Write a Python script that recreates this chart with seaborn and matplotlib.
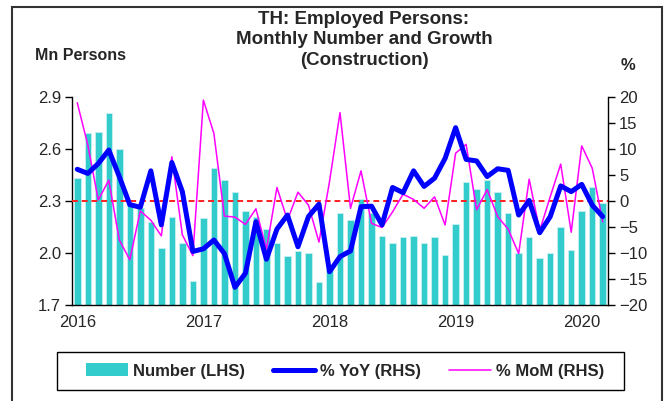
import numpy as np
import pandas as pd
import matplotlib
matplotlib.use("Agg")
import matplotlib.pyplot as plt
from matplotlib.patches import Rectangle, Patch
from matplotlib.lines import Line2D
import seaborn as sns

# monthly data, Jan 2016 - Mar 2020
months = pd.date_range("2016-01-01", "2020-03-01", freq="MS")

number = [2.43, 2.69, 2.70, 2.81, 2.60, 2.29, 2.26, 2.18, 2.03, 2.21, 2.06, 1.84,
          2.20, 2.49, 2.42, 2.35, 2.24, 2.21, 2.14, 2.06, 1.98, 2.01, 2.00, 1.83,
          1.90, 2.23, 2.19, 2.31, 2.23, 2.10, 2.06, 2.09, 2.10, 2.06, 2.09, 1.99,
          2.17, 2.41, 2.37, 2.42, 2.35, 2.23, 2.00, 2.09, 1.97, 2.00, 2.15, 2.02,
          2.24, 2.38, 2.29]

yoy = [6.1, 5.3, 7.2, 9.8, 4.7, -0.7, -1.2, 5.8, -4.6, 7.4, 1.8, -9.7,
       -9.2, -7.5, -10.1, -16.6, -13.9, -4.0, -11.2, -5.4, -2.7, -8.8, -3.0, -0.6,
       -13.6, -10.7, -9.6, -1.1, -1.0, -4.6, 2.6, 1.6, 5.8, 2.8, 4.4, 8.2,
       14.1, 8.0, 7.7, 4.7, 6.2, 5.9, -2.7, 0.1, -6.1, -3.0, 2.9, 1.8,
       3.2, -0.8, -3.0]

mom = [18.9, 10.8, 0.2, 4.0, -7.5, -11.3, -1.9, -3.7, -6.7, 8.5, -6.5, -10.5,
       19.4, 13.0, -2.9, -3.1, -4.5, -1.5, -9.3, 2.6, -3.7, 1.7, -0.8, -7.9,
       3.7, 17.0, -1.4, 5.8, -4.3, -5.1, -2.1, 1.3, 0.3, -1.4, 0.8, -4.6,
       9.2, 10.9, -1.7, 2.2, -3.0, -5.4, -10.1, 4.2, -5.7, 0.8, 7.1, -6.0,
       10.6, 6.3, -4.0]

years = ["2016", "2017", "2018", "2019", "2020"]

df = pd.DataFrame({"month": months, "number": number, "yoy": yoy, "mom": mom})
df["idx"] = np.arange(len(df))

sns.set_style("white")
plt.rcParams["font.family"] = ["Liberation Sans", "DejaVu Sans"]

W, H = 668, 401
fig = plt.figure(figsize=(W / 100, H / 100), dpi=100)
ax = fig.add_axes([72 / W, 1 - 305 / H, (608 - 72) / W, (305 - 97) / H])

sns.barplot(data=df, x="idx", y="number", ax=ax, color="#33CCCC", saturation=1,
            width=0.62, edgecolor="#c8f0f0", linewidth=0.6, zorder=1)
ax.set_ylim(1.7, 2.9)
ax.set_yticks([1.7, 2.0, 2.3, 2.6, 2.9])
ax.set_yticklabels(["1.7", "2.0", "2.3", "2.6", "2.9"])
ax.set_xlim(-0.5, len(df) - 0.5)
ax.set_xlabel("")
ax.set_ylabel("")

ax2 = ax.twinx()
ax2.axhline(0, color="#ff2020", lw=1.4, ls=(0, (3, 2)), zorder=1)
sns.lineplot(data=df, x="idx", y="mom", ax=ax2, color="#FF00FF", lw=1.1, zorder=2)
sns.lineplot(data=df, x="idx", y="yoy", ax=ax2, color="#0000FF", lw=3.6, zorder=3)
ax2.set_ylim(-20, 20)
ax2.set_yticks(range(-20, 21, 5))
ax2.set_xlim(-0.5, len(df) - 0.5)
ax2.set_xlabel("")
ax2.set_ylabel("")

# x axis: labels on January bars, tick marks at year boundaries
ax.set_xticks([0, 12, 24, 36, 48])
ax.set_xticklabels(years)
ax.set_xticks([-0.5, 11.5, 23.5, 35.5, 47.5], minor=True)
ax.tick_params(axis="x", which="major", length=0, pad=7, labelsize=12)
ax.tick_params(axis="x", which="minor", length=5, width=1, direction="out", color="black")
ax.tick_params(axis="y", length=5, width=1, direction="out", color="black", labelsize=12, pad=3)
ax2.tick_params(axis="y", length=5, width=1, direction="out", color="black", labelsize=12, pad=3)

for a in (ax, ax2):
    a.spines["top"].set_visible(False)
    for side in ("left", "right", "bottom"):
        a.spines[side].set_color("black")
        a.spines[side].set_linewidth(1.0)
ax.spines["right"].set_visible(False)
ax2.spines["left"].set_visible(False)
ax2.spines["bottom"].set_visible(False)

# texts
fig.text(364 / W, 1 - 40 / H,
         "TH: Employed Persons:\nMonthly Number and Growth\n(Construction)",
         ha="center", va="center", fontsize=13.5, fontweight="bold", linespacing=1.3)
fig.text(35 / W, 1 - 55 / H, "Mn Persons", ha="left", va="center",
         fontsize=11.5, fontweight="bold")
fig.text(628 / W, 1 - 65 / H, "%", ha="center", va="center",
         fontsize=12, fontweight="bold")

# legend
handles = [Patch(facecolor="#33CCCC", edgecolor="none"),
           Line2D([], [], color="#0000FF", lw=3.6),
           Line2D([], [], color="#FF00FF", lw=1.1)]
labels = ["Number (LHS)", "% YoY (RHS)", "% MoM (RHS)"]
fig.legend(handles, labels, loc="center", bbox_to_anchor=(345 / W, 1 - 371 / H),
           ncol=3, frameon=False, prop={"weight": "bold", "size": 12},
           handlelength=2.5, handleheight=0.8, handletextpad=0.3, columnspacing=1.7)
fig.add_artist(Rectangle((57 / W, 1 - 390 / H), (624 - 57) / W, 38 / H,
                         transform=fig.transFigure, fill=False, ec="black", lw=1.0))

# outer frame
fig.add_artist(Rectangle((12 / W, -0.05), (662 - 12) / W, 1.05 - 7 / H,
                         transform=fig.transFigure, fill=False, ec="#333333", lw=1.5))

fig.savefig("out.png", dpi=100)
